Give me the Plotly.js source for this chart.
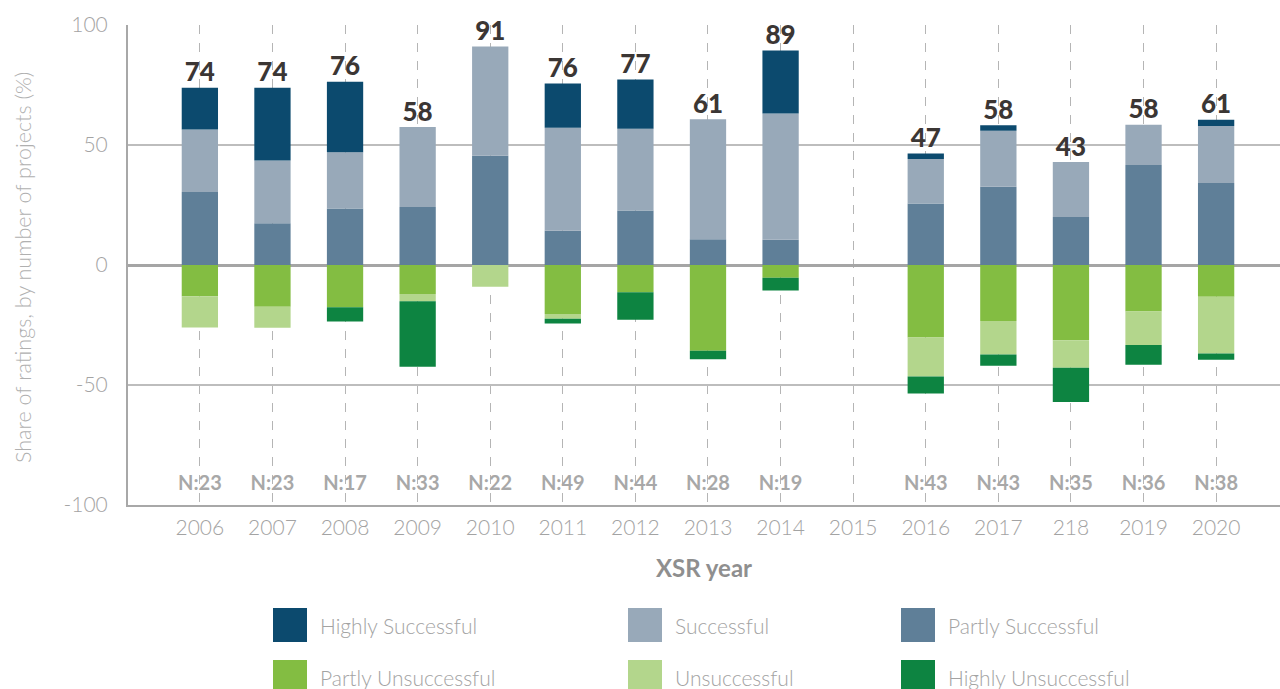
<!DOCTYPE html>
<html>
<head>
<meta charset="utf-8">
<script src="https://cdn.plot.ly/plotly-3.0.1.min.js"></script>
<style>html,body{margin:0;padding:0;background:#fff;}#chart{width:1280px;height:689px;}</style>
</head>
<body>
<div id="chart"></div>
<script>
const years = ['2006','2007','2008','2009','2010','2011','2012','2013','2014','2015','2016','2017','218','2019','2020'];
const highlySuccessful   = [17.4, 30.4, 29.4, 0, 0, 18.4, 20.5, 0, 26.3, 0, 2.3, 2.3, 0, 0, 2.6];
const successful         = [26.1, 26.1, 23.5, 33.3, 45.5, 42.9, 34.1, 50.0, 52.6, 0, 18.6, 23.3, 22.9, 16.7, 23.7];
const partlySuccessful   = [30.4, 17.4, 23.5, 24.2, 45.5, 14.3, 22.7, 10.7, 10.5, 0, 25.6, 32.6, 20.0, 41.7, 34.2];
const partlyUnsuccessful = [13.0, 17.4, 17.6, 12.1, 0, 20.4, 11.4, 35.7, 5.3, 0, 30.2, 23.3, 31.4, 19.4, 13.2];
const unsuccessful       = [13.0, 8.7, 0, 3.0, 9.1, 2.0, 0, 0, 0, 0, 16.3, 14.0, 11.4, 13.9, 23.7];
const highlyUnsuccessful = [0, 0, 5.9, 27.3, 0, 2.0, 11.4, 3.6, 5.3, 0, 7.0, 4.7, 14.3, 8.3, 2.6];
const totalLabels = ['74','74','76','58','91','76','77','61','89','','47','58','43','58','61'];
const nLabels = ['N:23','N:23','N:17','N:33','N:22','N:49','N:44','N:28','N:19','','N:43','N:43','N:35','N:36','N:38'];
const nLabelY = -91.5;
const yTickVals = [-100, -50, 0, 50, 100];
const yTickText = ['-100', '-50', '0', '50', '100'];
const yTitle = 'Share of ratings, by number of projects (%)';

const colors = {
  'Highly Successful':'#0c4a6e',
  'Successful':'#98a9b9',
  'Partly Successful':'#5f7f98',
  'Partly Unsuccessful':'#83bd42',
  'Unsuccessful':'#b3d68c',
  'Highly Unsuccessful':'#0d8441'
};

const FONT = 'Lato, "Open Sans", sans-serif';
const GRAY = '#a3a3a3';

function bar(name, vals, sign){
  return {
    type:'bar', name:name, x:years, y:vals.map(v => v===0 ? null : sign*v),
    width:0.5, marker:{color:colors[name], line:{width:0}},
    hoverinfo:'x+y+name', showlegend:false
  };
}

const totals = years.map((_,i)=> highlySuccessful[i]+successful[i]+partlySuccessful[i]);

const traces = [
  bar('Partly Successful', partlySuccessful, 1),
  bar('Successful', successful, 1),
  bar('Highly Successful', highlySuccessful, 1),
  bar('Partly Unsuccessful', partlyUnsuccessful, -1),
  bar('Unsuccessful', unsuccessful, -1),
  bar('Highly Unsuccessful', highlyUnsuccessful, -1),
  {
    type:'scatter', mode:'text', x:years, y:totals.map(t=>t===0?null:t), text:totalLabels,
    textposition:'top center', textfont:{family:FONT, size:26, color:'#3b3634', weight:900},
    showlegend:false, hoverinfo:'skip', cliponaxis:false
  },
  {
    type:'scatter', mode:'text', x:years, y:years.map(()=>nLabelY), text:nLabels,
    textposition:'middle center', textfont:{family:FONT, size:20, color:'#a8a8a8', weight:700},
    showlegend:false, hoverinfo:'skip'
  }
];

// legend drawn as shapes + annotations (paper coordinates)
const legendOrder = [['Highly Successful','Partly Unsuccessful'],['Successful','Unsuccessful'],['Partly Successful','Highly Unsuccessful']];
const shapes = [];
const annotations = [];
// plot area: x 128..1280 (1152 px), y 25..505 (480 px)
function px2paperX(px){ return (px-128)/1152; }
function px2paperY(py){ return (505-py)/480; }
const colPx = [273, 628, 901];
const rowPx = [625, 677];
legendOrder.forEach((col,ci)=>{
  col.forEach((name,ri)=>{
    shapes.push({type:'rect', xref:'paper', yref:'paper',
      x0:px2paperX(colPx[ci]), x1:px2paperX(colPx[ci]+34),
      y0:px2paperY(rowPx[ri]-17), y1:px2paperY(rowPx[ri]+17),
      fillcolor:colors[name], line:{width:0}, layer:'above'});
    annotations.push({xref:'paper', yref:'paper', x:px2paperX(colPx[ci]+45), y:px2paperY(rowPx[ri]),
      xanchor:'left', yanchor:'middle', text:name, showarrow:false,
      font:{family:FONT, size:21, color:GRAY, weight:300}});
  });
});
// y-axis title as rotated annotation
annotations.push({xref:'paper', yref:'paper', x:px2paperX(23), y:px2paperY(268),
  xanchor:'center', yanchor:'middle', textangle:-90, text:yTitle, showarrow:false,
  font:{family:FONT, size:21.5, color:'#b0b0b0', weight:300}});

const layout = {
  width:1280, height:689,
  margin:{l:128, r:0, t:25, b:184},
  paper_bgcolor:'#fff', plot_bgcolor:'#fff',
  barmode:'relative', bargap:0.5,
  showlegend:false,
  font:{family:FONT, color:GRAY},
  xaxis:{
    type:'category', range:[-0.99, 14.88],
    showgrid:true, gridcolor:'#b5b5b5', griddash:'dash', gridwidth:1,
    showline:true, linecolor:'#a8a8a8', linewidth:2,
    ticks:'', tickfont:{family:FONT, size:21, color:GRAY, weight:300},
    ticklabelstandoff:3,
    title:{text:'XSR year', font:{family:FONT, size:24, color:'#8f8f8f', weight:700}, standoff:22},
    zeroline:false, fixedrange:true
  },
  yaxis:{
    range:[-100,100], tickvals:yTickVals, ticktext:yTickText,
    showgrid:true, gridcolor:'#bdbdbd', gridwidth:1.5,
    zeroline:true, zerolinecolor:'#a5a5a5', zerolinewidth:2.5,
    showline:true, linecolor:'#a8a8a8', linewidth:2,
    ticks:'', tickfont:{family:FONT, size:21, color:GRAY, weight:300},
    ticklabelstandoff:14,
    fixedrange:true
  },
  shapes:shapes,
  annotations:annotations
};

Plotly.newPlot('chart', traces, layout, {displayModeBar:false});
</script>
</body>
</html>
